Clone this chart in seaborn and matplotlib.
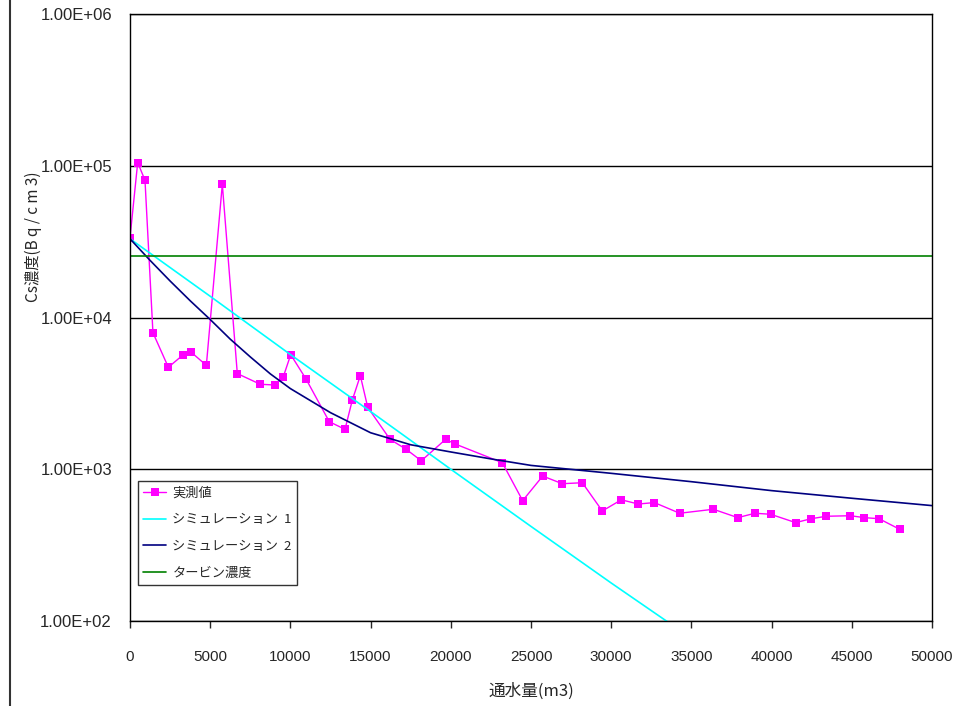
import numpy as np
import pandas as pd
import seaborn as sns
import matplotlib.pyplot as plt
from matplotlib.lines import Line2D
from matplotlib.ticker import FixedLocator, NullLocator

# measured values (実測値)
meas_x = [0, 480, 935, 1430, 2390, 3325, 3825, 4760, 5755, 6690, 8125, 9060,
          9560, 10020, 10970, 12425, 13405, 13860, 14360, 14820, 16210, 17225,
          18160, 19680, 20280, 23210, 24480, 25730, 26950, 28200, 29445, 30630,
          31690, 32690, 34270, 36370, 37890, 38970, 39940, 41500, 42460, 43410,
          44910, 45780, 46700, 47990]
meas_y = [33600, 105000, 80200, 7940, 4700, 5690, 5890, 4840, 75500, 4270, 3630, 3590,
          4075, 5690, 3940, 2057, 1833, 2857, 4140, 2560, 1575, 1352,
          1137, 1575, 1466, 1105, 621, 902, 803, 815, 531, 629,
          590, 603, 513, 545, 480, 513, 505, 445, 472, 490,
          494, 480, 472, 402]

# simulation 1
sim1_x = [0, 5000, 10000, 15000, 20000, 25000, 30000, 35000]
sim1_y = [33000, 13800, 5700, 2400, 1000, 420, 178, 77]

# simulation 2
sim2_x = [0, 1250, 2500, 3750, 5000, 6250, 7500, 8750, 10000, 12500, 15000,
          17500, 20000, 22500, 25000, 30000, 35000, 40000, 45000, 50000]
sim2_y = [33000, 23800, 17400, 12900, 9700, 7200, 5500, 4250, 3400, 2360, 1740,
          1450, 1300, 1170, 1060, 940, 828, 723, 644, 576]

# turbine concentration
turb_x = [0, 50000]
turb_y = [25400, 25400]

labels = ["実測値", "シミュレーション  1", "シミュレーション  2", "タービン濃度"]
colors = ["#FF00FF", "#00FFFF", "#000080", "#008000"]

sns.set_style("white")
plt.rcParams['font.family'] = ['Noto Sans CJK JP', 'DejaVu Sans']

fig = plt.figure(figsize=(9.71, 7.06), dpi=100)
ax = fig.add_axes([130/971, 1 - 621/706, 802/971, 607/706])

df_meas = pd.DataFrame({"x": meas_x, "y": meas_y})
df_sim1 = pd.DataFrame({"x": sim1_x, "y": sim1_y})
df_sim2 = pd.DataFrame({"x": sim2_x, "y": sim2_y})
df_turb = pd.DataFrame({"x": turb_x, "y": turb_y})

sns.lineplot(ax=ax, data=df_meas, x="x", y="y", color=colors[0], lw=1,
             marker="s", markersize=5.5, markeredgewidth=0, label=labels[0], sort=False)
sns.lineplot(ax=ax, data=df_sim1, x="x", y="y", color=colors[1], lw=1.2, label=labels[1])
sns.lineplot(ax=ax, data=df_sim2, x="x", y="y", color=colors[2], lw=1.2, label=labels[2])
sns.lineplot(ax=ax, data=df_turb, x="x", y="y", color=colors[3], lw=1.2, label=labels[3])

ax.set_yscale("log")
ax.set_xlim(0, 50000)
ax.set_ylim(1e2, 1e6)
yt = [1e2, 1e3, 1e4, 1e5, 1e6]
ax.yaxis.set_major_locator(FixedLocator(yt))
ax.yaxis.set_minor_locator(NullLocator())
ax.set_yticklabels(["{:.2E}".format(v) for v in yt], fontsize=12,
                   family=['Liberation Sans', 'DejaVu Sans'])
ax.set_xticks(np.arange(0, 50001, 5000))
ax.set_xticklabels([str(v) for v in range(0, 50001, 5000)], fontsize=11,
                   family=['Liberation Sans', 'DejaVu Sans'])
ax.tick_params(axis='x', direction='out', length=5, width=1, pad=16, bottom=True)
ax.tick_params(axis='y', direction='out', length=0, pad=13, left=True)
ax.grid(axis='y', which='major', color='black', lw=1)
ax.grid(axis='x', visible=False)
for s in ax.spines.values():
    s.set_color('black')
    s.set_linewidth(1)

ax.set_xlabel("通水量(m3)", fontsize=12, labelpad=13)
ax.set_ylabel("Cs濃度(B q / c m 3)", fontsize=11)
ax.yaxis.set_label_coords(-0.110, 0.633)

leg = ax.legend(loc='lower left', bbox_to_anchor=(0.01, 0.059), borderaxespad=0,
                frameon=True, fancybox=False, fontsize=9.5, handlelength=1.7,
                handletextpad=0.5, labelspacing=1.05, borderpad=0.4)
leg.get_frame().set_edgecolor('black')
leg.get_frame().set_linewidth(1)

fig.add_artist(Line2D([10/971, 10/971], [0, 1], color='#333333', lw=1.5))

plt.savefig("out.png", dpi=100)
